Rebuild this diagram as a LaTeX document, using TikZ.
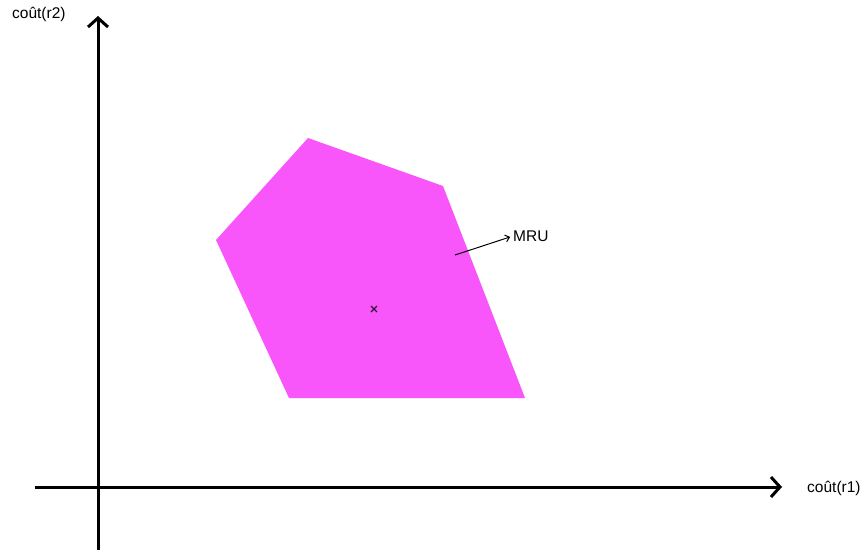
\documentclass[tikz,border=0pt]{standalone}
\usepackage{fontspec}
\setmainfont{Liberation Sans}
\usetikzlibrary{arrows.meta}
\definecolor{mag}{RGB}{248,86,250}
\tikzset{
  axis/.style={line width=3pt,-{Straight Barb[length=9pt,width=20pt,line width=3pt]}},
  lbl/.style={font=\fontsize{15.5}{17}\selectfont, inner sep=0pt},
}
\begin{document}
\begin{tikzpicture}[x=1pt,y=-1pt]
\useasboundingbox (0,0) rectangle (867,550);
\coordinate (yb) at (98,550);
\coordinate (yt) at (98,16);
\coordinate (xl) at (35,487);
\coordinate (xr) at (782,487);
\fill[mag] (308,138) -- (443,186) -- (525,398) -- (289,398) -- (216,240) -- cycle;
\draw[axis] (yb) -- (yt);
\draw[axis] (xl) -- (xr);
\node[lbl,anchor=west] (r2) at (12,14) {coût(r2)};
\node[lbl,anchor=west] (r1) at (807,488) {coût(r1)};
\node[lbl,anchor=west] (mru) at (513,236) {MRU};
\coordinate (ms) at (455,255);
\draw[line width=1pt,shorten >=3pt,-{Straight Barb[length=4pt,width=7pt]}] (ms) -- (mru.west);
\coordinate (c) at (374,309);
\draw[line width=1.1pt,color=black!80!mag] ([shift={(-3,-3)}]c) -- ([shift={(3,3)}]c) ([shift={(-3,3)}]c) -- ([shift={(3,-3)}]c);
\end{tikzpicture}
\end{document}
